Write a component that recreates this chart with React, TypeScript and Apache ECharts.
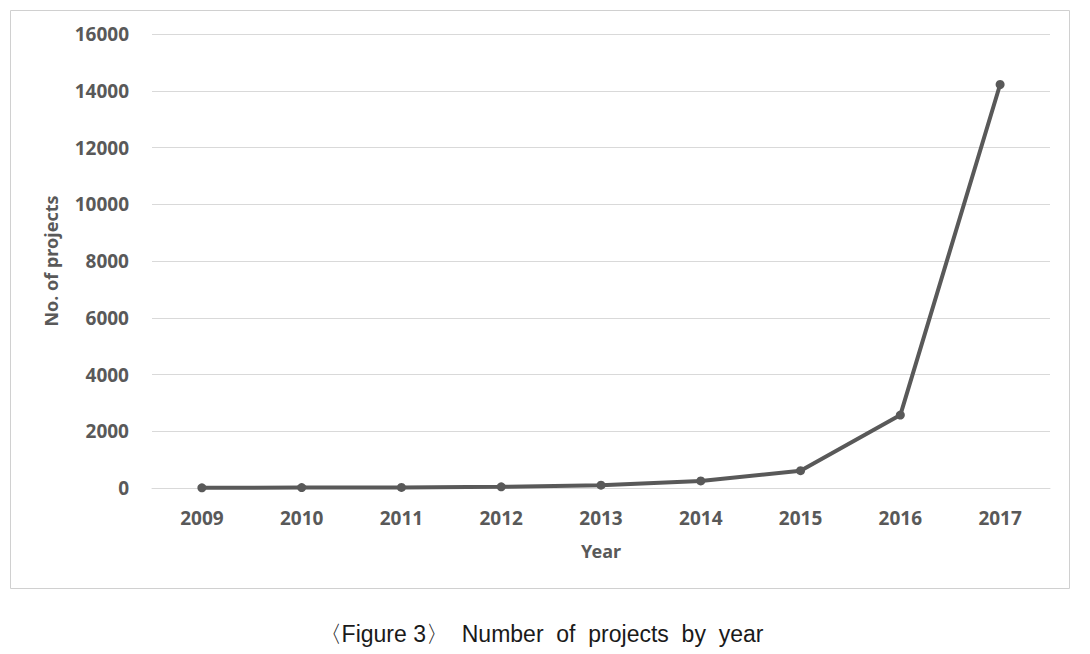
import React, { useEffect, useRef } from "react";
import * as echarts from "echarts";

const years = ["2009", "2010", "2011", "2012", "2013", "2014", "2015", "2016", "2017"];
const projects = [5, 15, 20, 40, 100, 250, 610, 2570, 14220];
const caption = "〈Figure 3〉  Number  of  projects  by  year";

export default function App() {
  const ref = useRef<HTMLDivElement>(null);
  useEffect(() => {
    const chart = echarts.init(ref.current!, undefined, { renderer: "svg" });
    const lbl = { fontFamily: "Noto Sans", fontWeight: "bold", fontSize: 19, color: "#595959" };
    chart.setOption({
      animation: false,
      backgroundColor: "#ffffff",
      grid: { left: 152, right: 40, top: 34, bottom: 166 },
      xAxis: {
        type: "category",
        data: years,
        boundaryGap: true,
        name: "Year",
        nameLocation: "middle",
        nameGap: 54,
        nameTextStyle: { fontFamily: "Noto Sans", fontWeight: "bold", fontSize: 18, color: "#595959" },
        axisLine: { lineStyle: { color: "#d9d9d9", width: 1 } },
        axisTick: { show: false },
        axisLabel: { ...lbl, margin: 20 },
      },
      yAxis: {
        type: "value",
        min: 0,
        max: 16000,
        interval: 2000,
        name: "No. of projects",
        nameLocation: "middle",
        nameGap: 92,
        nameTextStyle: { fontFamily: "Noto Sans", fontWeight: "bold", fontSize: 18, color: "#595959" },
        axisLine: { show: false },
        axisTick: { show: false },
        splitLine: { lineStyle: { color: "#d9d9d9", width: 1 } },
        axisLabel: { ...lbl, margin: 23, formatter: (v: number) => String(v) },
      },
      series: [
        {
          type: "line",
          data: projects,
          symbol: "circle",
          symbolSize: 9,
          lineStyle: { color: "#595959", width: 4 },
          itemStyle: { color: "#595959" },
        },
      ],
      graphic: [
        {
          type: "rect",
          shape: { x: 10.5, y: 10.5, width: 1059, height: 578 },
          style: { fill: "none", stroke: "#d0d0d0", lineWidth: 1 },
          silent: true,
        },
        {
          type: "text",
          x: 541,
          y: 634,
          style: {
            text: caption,
            fontFamily: "Liberation Sans",
            fontSize: 23,
            fill: "#1a1a1a",
            align: "center",
            verticalAlign: "middle",
          },
        },
      ],
    });
    return () => chart.dispose();
  }, []);
  return <div ref={ref} style={{ position: "fixed", left: 0, top: 0, width: 1090, height: 654 }} />;
}
